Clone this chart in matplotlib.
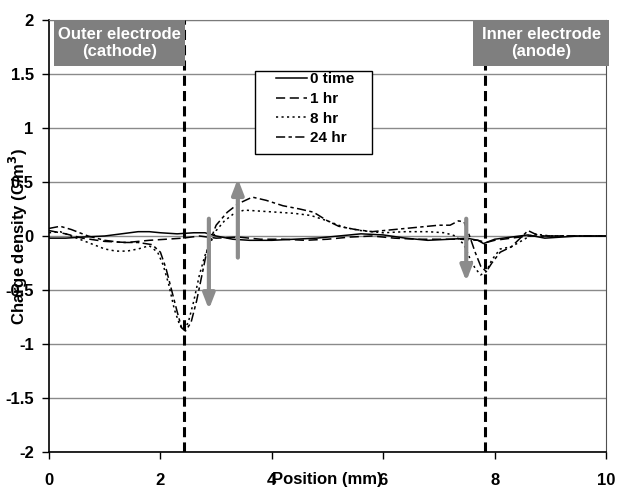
import numpy as np
import matplotlib
matplotlib.use("Agg")
import matplotlib.pyplot as plt
from matplotlib.patches import Rectangle

plt.rcParams['font.family'] = ['Liberation Sans', 'DejaVu Sans']
plt.rcParams['font.weight'] = 'bold'

# series (position in mm, charge density in C/m^3)
x_0time = [0, 0.3, 0.6, 1.0, 1.3, 1.6, 1.8, 2.0, 2.3, 2.6, 2.8, 3.0, 3.3, 3.6, 4.0, 4.4,
           4.8, 5.2, 5.6, 6.0, 6.4, 6.8, 7.2, 7.5, 7.7, 7.8, 8.0, 8.3, 8.6, 8.9, 9.5, 10]
y_0time = [-0.02, -0.02, -0.01, 0.0, 0.02, 0.04, 0.04, 0.03, 0.02, 0.03, 0.03, 0.0, -0.03,
           -0.04, -0.04, -0.03, -0.02, 0.0, 0.02, 0.01, -0.02, -0.04, -0.03, -0.02, -0.04,
           -0.07, -0.03, -0.01, 0.01, -0.02, 0.0, 0.0]

x_1hr = [0, 0.3, 0.6, 1.0, 1.4, 1.8, 2.1, 2.4, 2.7, 3.0, 3.4, 3.8, 4.2, 4.6, 5.0, 5.4, 5.8,
         6.2, 6.6, 7.0, 7.4, 7.7, 7.85, 8.0, 8.3, 8.6, 9.0, 10]
y_1hr = [0.05, 0.02, -0.02, -0.05, -0.06, -0.04, -0.03, -0.02, 0.0, -0.02, -0.01, -0.03,
         -0.03, -0.04, -0.03, -0.01, 0.0, -0.02, -0.03, -0.03, -0.03, -0.04, -0.06, -0.04,
         -0.02, 0.0, 0.0, 0.0]

x_8hr = [0, 0.2, 0.5, 0.8, 1.0, 1.2, 1.4, 1.6, 1.8, 1.95, 2.05, 2.15, 2.25, 2.35, 2.42, 2.5,
         2.6, 2.7, 2.8, 2.9, 3.0, 3.15, 3.3, 3.5, 3.8, 4.1, 4.4, 4.7, 5.0, 5.3, 5.6, 6.0, 6.4,
         6.8, 7.1, 7.3, 7.45, 7.55, 7.65, 7.75, 7.85, 7.95, 8.1, 8.3, 8.5, 8.7, 9.0, 10]
y_8hr = [0.03, 0.04, -0.02, -0.08, -0.12, -0.14, -0.14, -0.12, -0.09, -0.15, -0.27, -0.45,
         -0.68, -0.83, -0.87, -0.8, -0.6, -0.36, -0.18, -0.06, 0.05, 0.14, 0.2, 0.24, 0.23,
         0.22, 0.21, 0.19, 0.14, 0.08, 0.05, 0.03, 0.04, 0.04, 0.03, 0.0, -0.08, -0.2, -0.3,
         -0.36, -0.33, -0.22, -0.12, -0.1, -0.04, 0.02, 0.0, 0.0]

x_24hr = [0, 0.2, 0.4, 0.7, 1.0, 1.3, 1.6, 1.85, 2.0, 2.1, 2.2, 2.3, 2.38, 2.45, 2.55, 2.65,
          2.75, 2.85, 3.0, 3.2, 3.4, 3.65, 3.9, 4.2, 4.5, 4.75, 5.0, 5.2, 5.5, 5.8, 6.2, 6.6,
          7.0, 7.2, 7.35, 7.45, 7.55, 7.65, 7.75, 7.85, 7.95, 8.1, 8.3, 8.5, 8.6, 8.8, 9.0, 10]
y_24hr = [0.07, 0.09, 0.06, 0.0, -0.04, -0.06, -0.06, -0.08, -0.15, -0.3, -0.5, -0.7, -0.85,
          -0.88, -0.8, -0.6, -0.35, -0.1, 0.1, 0.22, 0.3, 0.36, 0.33, 0.28, 0.25, 0.22, 0.14,
          0.09, 0.06, 0.04, 0.06, 0.08, 0.1, 0.1, 0.14, 0.13, 0.0, -0.15, -0.28, -0.33, -0.25,
          -0.15, -0.1, 0.0, 0.05, 0.0, 0.0, 0.0]

series_labels = ['0 time', '1 hr', '8 hr', '24 hr']

# electrode positions and their labels
electrode_x = [2.42, 7.83]
electrode_text = ['Outer electrode\n(cathode)', 'Inner electrode\n(anode)']

# gray arrows: x, start y, end y
arrow_x = [2.87, 3.39, 7.49]
arrow_from = [0.16, -0.2, 0.16]
arrow_to = [-0.68, 0.53, -0.42]

fig = plt.figure(figsize=(6.3, 4.88), dpi=100)
ax = fig.add_axes([0.0778, 0.0738, 0.8842, 0.8852])

ax.set_xlim(0, 10)
ax.set_ylim(-2, 2)
ax.set_xticks(np.arange(0, 11, 2))
ax.set_yticks(np.arange(-2, 2.01, 0.5))
ax.set_yticklabels(['-2', '-1.5', '-1', '-0.5', '0', '0.5', '1', '1.5', '2'])
ax.tick_params(axis='x', direction='out', length=5, width=1, pad=10, labelsize=12)
ax.tick_params(axis='y', direction='out', length=5, width=1, pad=6, labelsize=12)
ax.yaxis.grid(True, color='#8a8a8a', lw=1)
ax.set_axisbelow(True)
ax.spines['left'].set_color('black')
ax.spines['bottom'].set_color('black')
ax.spines['left'].set_linewidth(1.2)
ax.spines['bottom'].set_linewidth(1.2)
ax.spines['top'].set_color('#7a7a7a')
ax.spines['right'].set_color('#505050')

lw = 1.1
ax.plot(x_0time, y_0time, color='black', lw=lw, label=series_labels[0])
ax.plot(x_1hr, y_1hr, color='black', lw=lw, dashes=(6, 3), label=series_labels[1])
ax.plot(x_8hr, y_8hr, color='black', lw=lw, dashes=(1.4, 2.2), label=series_labels[2])
ax.plot(x_24hr, y_24hr, color='black', lw=lw, dashes=(6, 2.2, 2.2, 2.2), label=series_labels[3])

for xe in electrode_x:
    ax.axvline(xe, color='black', lw=2.2, dashes=(3.3, 1.7), zorder=3)

# label boxes for the electrodes
boxes = [(0.09, 2.44), (7.61, 10.06)]
for (x0, x1), txt in zip(boxes, electrode_text):
    ax.add_patch(Rectangle((x0, 1.575), x1 - x0, 0.425, facecolor='#7f7f7f',
                           edgecolor='none', zorder=4, clip_on=False))
    ax.text((x0 + x1) / 2, 1.79, txt, color='white', fontsize=12, fontweight='bold',
            ha='center', va='center', linespacing=1.15, zorder=5)

for xa, y0, y1 in zip(arrow_x, arrow_from, arrow_to):
    ax.annotate('', xy=(xa, y1), xytext=(xa, y0),
                arrowprops=dict(arrowstyle='-|>,head_width=0.35,head_length=0.9',
                                color='#8c8c8c', lw=3, shrinkA=0, shrinkB=0),
                zorder=4)

# legend: box drawn by hand, entries placed inside
ax.add_patch(Rectangle((0.37, 0.69), 0.21, 0.192, transform=ax.transAxes,
                       facecolor='white', edgecolor='black', lw=1, zorder=6))
leg = ax.legend(loc='upper left', bbox_to_anchor=(0.408, 0.879), frameon=False,
                borderpad=0, borderaxespad=0, handlelength=2.0, handletextpad=0.2,
                labelspacing=0.37, prop={'size': 11, 'weight': 'bold'})
leg.set_zorder(7)

ax.set_xlabel('Position (mm)', fontsize=12, fontweight='bold', va='top')
ax.xaxis.set_label_coords(0.5, -0.047)
ax.set_ylabel('Charge density (C/m$^3$)', fontsize=12, fontweight='bold')
ax.yaxis.set_label_coords(-0.034, 0.5)

fig.savefig('out.png', dpi=100)
